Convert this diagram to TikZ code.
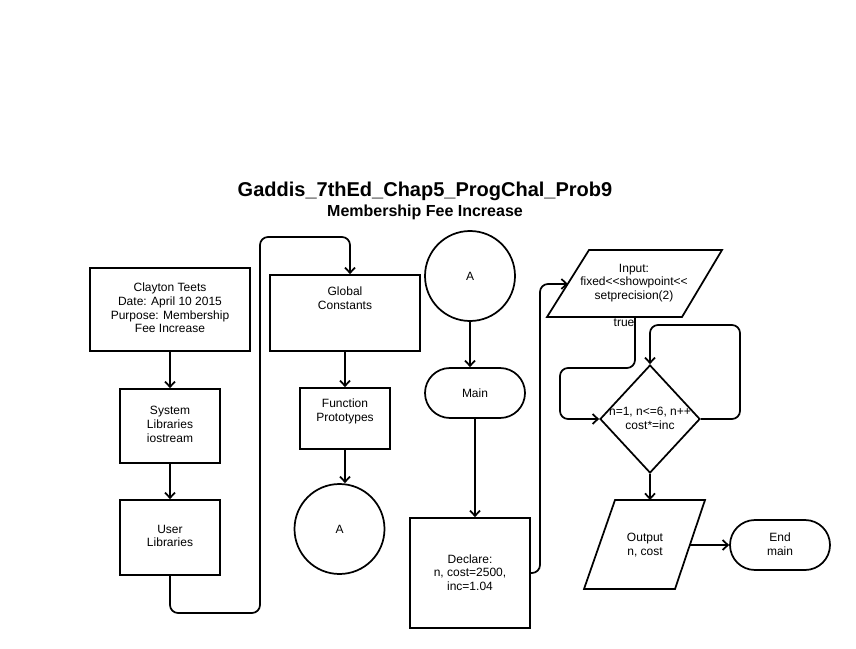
\documentclass[tikz,border=0pt]{standalone}
\usepackage{fontspec}
\setmainfont{Liberation Sans}
\usetikzlibrary{arrows.meta,shapes.geometric,calc}
\tikzset{
  shp/.style={draw=black, line width=1.3pt, inner sep=0pt, fill=white},
  boxs/.style={shp, rectangle},
  term/.style={shp, rectangle, rounded corners=18.75pt},
  circ/.style={shp, circle, minimum size=67.5pt},
  txt/.style={align=center, font=\fontsize{9}{10.3}\selectfont, inner sep=0pt},
  conn/.style={line width=1.3pt, -{Straight Barb[length=4pt,width=7.5pt,line width=1.3pt]}, rounded corners=6pt},
}
\begin{document}
\begin{tikzpicture}[x=0.75pt,y=-0.75pt]
\path[fill=white] (0,0) rectangle (856,649);
% titles
\node[font=\bfseries\fontsize{15}{16}\selectfont, inner sep=0pt] (title) at (425,191) {Gaddis\_7thEd\_Chap5\_ProgChal\_Prob9};
\node[font=\bfseries\fontsize{12}{13}\selectfont, inner sep=0pt] (subtitle) at (425,212) {Membership Fee Increase};
% left column
\node[boxs, minimum width=120pt, minimum height=62.25pt] (clay) at (170,309.5) {};
\node[txt] (claytxt) at (170,308) {Clayton Teets\\Date: April 10 2015\\Purpose: Membership\\Fee Increase};
\node[boxs, minimum width=75pt, minimum height=55.5pt] (sys) at (170,426) {};
\node[txt] (systxt) at (170,424.5) {System\\Libraries\\iostream};
\node[boxs, minimum width=75pt, minimum height=56.25pt] (usr) at (170,537.5) {};
\node[txt] (usrtxt) at (170,536) {User\\Libraries};
% second column
\node[boxs, minimum width=112.5pt, minimum height=57pt] (glob) at (345,313) {};
\node[txt] (globtxt) at (345,298.5) {Global\\Constants};
\node[boxs, minimum width=67.5pt, minimum height=45.75pt] (func) at (345,418.5) {};
\node[txt] (functxt) at (345,411.5) {Function\\Prototypes};
\node[circ] (ca1) at (339.5,529) {};
\node[txt] (ca1txt) at (339.5,529) {A};
% third column
\node[circ] (ca2) at (470,276) {};
\node[txt] (ca2txt) at (470,276) {A};
\node[term, minimum width=75pt, minimum height=37.5pt] (main) at (475,393) {};
\node[txt] (maintxt) at (475,393) {Main};
\node[boxs, minimum width=90pt, minimum height=82.5pt] (decl) at (470,573) {};
\node[txt] (decltxt) at (470,572.5) {Declare:\\n, cost=2500,\\inc=1.04};
% fourth column
\draw[shp] (589,250) -- (722,250) -- (682,317) -- (547,317) -- cycle;
\node[txt] (inp) at (634,283) {Input:\\fixed<{}<showpoint<{}<\\setprecision(2)};
\coordinate (inL) at (568,284);
\coordinate (inB) at (635,317);
\node[txt] (truelbl) at (624,323) {true};
\node[shp, diamond, minimum width=75pt, minimum height=81pt] (dia) at (650,419) {};
\node[txt] (diatxt) at (650,418.5) {n=1, n<=6, n++\\cost*=inc};
\draw[shp] (615,500) -- (705,500) -- (675,589) -- (584,589) -- cycle;
\node[txt] (outtxt) at (645,545) {Output\\n, cost};
\coordinate (outT) at (650,500);
\coordinate (outR) at (690,545);
\node[term, minimum width=75pt, minimum height=37.5pt] (endm) at (780,545) {};
\node[txt] (endtxt) at (780,544.5) {End\\main};
% connectors
\draw[conn] (clay.south) -- (sys.north);
\draw[conn] (sys.south) -- (usr.north);
\draw[conn] (usr.south) -- (170,613) -- (260,613) -- (260,237) -- (350,237) -- ([xshift=3.75pt]glob.north);
\draw[conn] (glob.south) -- (func.north);
\draw[conn] (func.south) -- (func.south |- ca1.north);
\draw[conn] (ca2.south) -- (ca2.south |- main.north);
\draw[conn] (main.south) -- (main.south |- decl.north);
\draw[conn] (decl.east) -- (540,573) -- (540,284) -- (inL);
\draw[conn] (inB) -- (635,368) -- (560,368) -- (560,419) -- (dia.west);
\draw[conn] (dia.east) -- (740,419) -- (740,325) -- (650,325) -- (dia.north);
\draw[conn] (dia.south) -- (outT);
\draw[conn] (outR) -- (endm.west);
\end{tikzpicture}
\end{document}
